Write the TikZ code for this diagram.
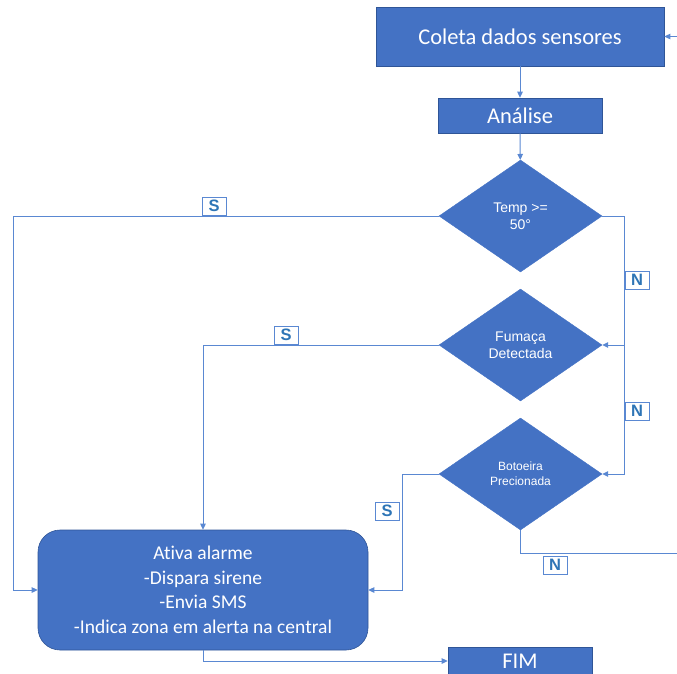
\documentclass[tikz,border=0pt]{standalone}
\usepackage{fontspec}
\setmainfont{Carlito}[Ligatures=NoCommon]
\newfontfamily\arialf{Liberation Sans}
\usetikzlibrary{shapes.geometric,arrows.meta}
\definecolor{boxblue}{RGB}{68,114,196}
\definecolor{edgeblue}{RGB}{47,85,151}
\definecolor{lineblue}{RGB}{90,136,210}
\definecolor{lblblue}{RGB}{46,117,182}
\begin{document}
\begin{tikzpicture}[x=1pt,y=-1pt,
 box/.style={fill=boxblue,draw=edgeblue,line width=0.6pt,text=white,inner sep=0pt},
 dec/.style={diamond,aspect=1,fill=boxblue,draw=boxblue,text=white,inner sep=0pt,minimum width=163pt,minimum height=112pt,align=center,font=\arialf\fontsize{14}{16.5}\selectfont},
 conn/.style={draw=lineblue,line width=0.9pt},
 arr/.style={conn,-{Triangle[length=6pt,width=5.5pt]}},
 lbl/.style={fill=white,draw=lineblue,line width=0.8pt,text=lblblue,font=\arialf\bfseries\fontsize{16.5}{16.5}\selectfont,minimum width=24pt,minimum height=18pt,inner sep=0pt}]
\clip (0,0) rectangle (677,673);
\node[box,minimum width=288pt,minimum height=59pt,font=\fontsize{22.5}{26}\selectfont] (coleta) at (520,36.5) {Coleta dados sensores};
\node[box,minimum width=164pt,minimum height=35pt,font=\fontsize{22.5}{26}\selectfont] (analise) at (520,115.5) {Análise};
\node[dec] (temp) at (520.5,216) {Temp >=\\50°};
\node[dec] (fum) at (520.5,345) {Fumaça\\Detectada};
\node[dec,font=\arialf\fontsize{12}{15}\selectfont] (bot) at (520.5,474) {Botoeira\\Precionada};
\node[box,rounded corners=22pt,minimum width=330pt,minimum height=120pt,align=center,font=\fontsize{19.5}{24.5}\selectfont] (ativa) at (203,590) {Ativa alarme\\-Dispara sirene\\-Envia SMS\\-Indica zona em alerta na central};
\node[box,minimum width=144pt,minimum height=28pt,font=\fontsize{22.5}{26}\selectfont] (fim) at (520,661) {FIM};
\coordinate (in) at (677,36.5);
\coordinate (out) at (677,553);
\draw[arr] (in) -- (coleta.east);
\draw[arr] (coleta) -- (analise);
\draw[arr] (analise) -- (temp);
\draw[arr] (temp.west) -- ++(-425,0) |- (ativa.west);
\draw[arr] (temp.east) -- ++(22,0) |- (fum.east);
\draw[arr] (fum.east) ++(22,0) |- (bot.east);
\draw[arr] (fum.west) -| (ativa.north);
\draw[arr] (bot.west) -- ++(-36,0) |- (ativa.east);
\draw[conn] (bot.south) |- (out);
\draw[arr] (ativa.south) |- (fim.west);
\node[lbl] (s1) at (214,206) {S};
\node[lbl] (s2) at (286,335) {S};
\node[lbl] (n1) at (637,280) {N};
\node[lbl] (n2) at (637,411) {N};
\node[lbl] (s3) at (387,511) {S};
\node[lbl] (n3) at (555,565) {N};
\end{tikzpicture}
\end{document}
